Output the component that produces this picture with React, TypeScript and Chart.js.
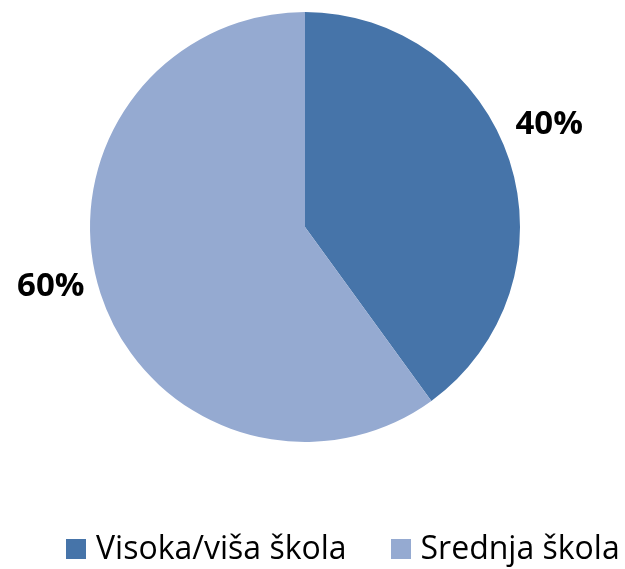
import React, { useEffect, useRef } from "react";
import { Chart, registerables } from "chart.js";

Chart.register(...registerables);

const categories = ["Visoka/viša škola", "Srednja škola"];
const values = [40, 60];
const colors = ["#4674A9", "#95AAD1"];

const FONT = "'Open Sans', 'Noto Sans', sans-serif";

const labelPlugin = {
  id: "sliceLabels",
  afterDatasetsDraw(chart: any) {
    const ctx = chart.ctx;
    const meta = chart.getDatasetMeta(0);
    const total = values.reduce((a, b) => a + b, 0);
    ctx.save();
    ctx.font = `bold 33px ${FONT}`;
    ctx.fillStyle = "#000";
    ctx.textAlign = "center";
    ctx.textBaseline = "middle";
    meta.data.forEach((arc: any, i: number) => {
      const { x, y, startAngle, endAngle, outerRadius } = arc.getProps(
        ["x", "y", "startAngle", "endAngle", "outerRadius"],
        true
      );
      const mid = (startAngle + endAngle) / 2;
      const d = outerRadius + 47;
      const lx = x + Math.cos(mid) * d - 5;
      const ly = y + Math.sin(mid) * d - 21;
      ctx.fillText(Math.round((values[i] / total) * 100) + "%", lx, ly);
    });
    ctx.restore();
  },
};

export default function App() {
  const ref = useRef<HTMLCanvasElement | null>(null);
  useEffect(() => {
    const chart = new Chart(ref.current as HTMLCanvasElement, {
      type: "pie",
      data: {
        labels: categories,
        datasets: [
          {
            data: values,
            backgroundColor: colors,
            borderWidth: 0,
          },
        ],
      },
      options: {
        animation: false,
        responsive: false,
        layout: { padding: { left: 90, right: 105, top: 12, bottom: 127 } },
        plugins: {
          legend: { display: false },
          tooltip: { enabled: false },
        },
      },
      plugins: [labelPlugin],
    });
    return () => chart.destroy();
  }, []);

  return (
    <div style={{ position: "fixed", left: 0, top: 0, width: 625, height: 569, background: "#fff", overflow: "hidden" }}>
      <canvas ref={ref} width={625} height={569} style={{ display: "block" }} />
      <div
        style={{
          position: "absolute",
          left: 66,
          top: 530,
          display: "flex",
          alignItems: "flex-start",
          fontFamily: FONT,
          fontSize: 32,
          color: "#000",
          whiteSpace: "nowrap",
          lineHeight: "34px",
        }}
      >
        {categories.map((c, i) => (
          <span key={c} style={{ display: "flex", alignItems: "flex-start", marginRight: i === 0 ? 44 : 0 }}>
            <span
              style={{
                display: "inline-block",
                width: 20,
                height: 20,
                background: colors[i],
                marginRight: 10,
                marginTop: 9,
              }}
            />
            {c}
          </span>
        ))}
      </div>
    </div>
  );
}
